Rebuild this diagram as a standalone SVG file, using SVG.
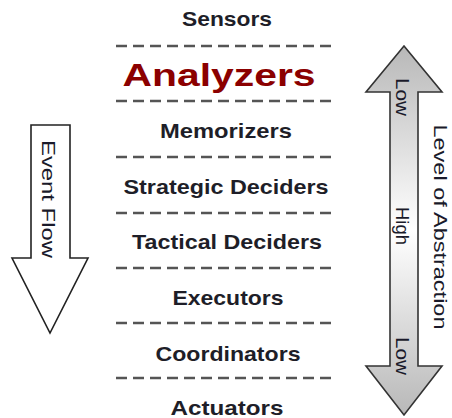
<svg xmlns="http://www.w3.org/2000/svg" width="452" height="418" viewBox="0 0 452 418">
  <style>
    .layer { font-family: "Liberation Sans", Arial, sans-serif; font-weight: bold; font-size: 21px; fill: #1e1e28; text-anchor: middle; }
    .hero { font-size: 32px; fill: #8b0000; }
    .side { font-family: "Liberation Sans", Arial, sans-serif; font-size: 18px; fill: #1a1a2a; text-anchor: middle; }
    .sep { stroke: #555; stroke-width: 2.5; stroke-dasharray: 11 6; fill: none; }
  </style>
  <defs>
    <linearGradient id="absGrad" x1="0" y1="0" x2="0" y2="1">
      <stop offset="0" stop-color="#b8b8b8"/>
      <stop offset="0.5" stop-color="#ffffff"/>
      <stop offset="1" stop-color="#b8b8b8"/>
    </linearGradient>
  </defs>

  <g id="separators">
    <line class="sep" x1="116" y1="46" x2="336" y2="46"/>
    <line class="sep" x1="116" y1="101" x2="336" y2="101"/>
    <line class="sep" x1="116" y1="157" x2="336" y2="157"/>
    <line class="sep" x1="116" y1="213" x2="336" y2="213"/>
    <line class="sep" x1="116" y1="268" x2="336" y2="268"/>
    <line class="sep" x1="116" y1="323" x2="336" y2="323"/>
    <line class="sep" x1="116" y1="378" x2="336" y2="378"/>
  </g>

  <g id="sensors"><text class="layer" x="227" y="26" textLength="90" lengthAdjust="spacingAndGlyphs">Sensors</text></g>
  <g id="analyzers"><text class="layer hero" x="219" y="86" textLength="193" lengthAdjust="spacingAndGlyphs">Analyzers</text></g>
  <g id="memorizers"><text class="layer" x="226" y="138" textLength="132" lengthAdjust="spacingAndGlyphs">Memorizers</text></g>
  <g id="strategic"><text class="layer" x="226" y="194" textLength="205" lengthAdjust="spacingAndGlyphs">Strategic Deciders</text></g>
  <g id="tactical"><text class="layer" x="227" y="249" textLength="190" lengthAdjust="spacingAndGlyphs">Tactical Deciders</text></g>
  <g id="executors"><text class="layer" x="228" y="305" textLength="111" lengthAdjust="spacingAndGlyphs">Executors</text></g>
  <g id="coordinators"><text class="layer" x="228" y="361" textLength="145" lengthAdjust="spacingAndGlyphs">Coordinators</text></g>
  <g id="actuators"><text class="layer" x="227" y="415" textLength="113" lengthAdjust="spacingAndGlyphs">Actuators</text></g>

  <g id="event-flow">
    <path d="M31 125 H70 V258 H88 L50 333 L12 258 H31 Z" fill="#fff" stroke="#222" stroke-width="1.6" stroke-linejoin="miter"/>
    <text class="side" transform="translate(42 199) rotate(90)" textLength="118" lengthAdjust="spacingAndGlyphs">Event Flow</text>
  </g>

  <g id="abstraction">
    <path d="M404 46 L442 92 H418 V366 H442 L404 415 L366 366 H390 V92 H366 Z" fill="url(#absGrad)" stroke="#333" stroke-width="1.6"/>
    <text class="side" transform="translate(396 97) rotate(90)" textLength="38" lengthAdjust="spacingAndGlyphs">Low</text>
    <text class="side" transform="translate(396 226) rotate(90)" textLength="38" lengthAdjust="spacingAndGlyphs">High</text>
    <text class="side" transform="translate(396 356) rotate(90)" textLength="38" lengthAdjust="spacingAndGlyphs">Low</text>
    <text class="side" transform="translate(434 227) rotate(90)" textLength="205" lengthAdjust="spacingAndGlyphs">Level of Abstraction</text>
  </g>
</svg>
